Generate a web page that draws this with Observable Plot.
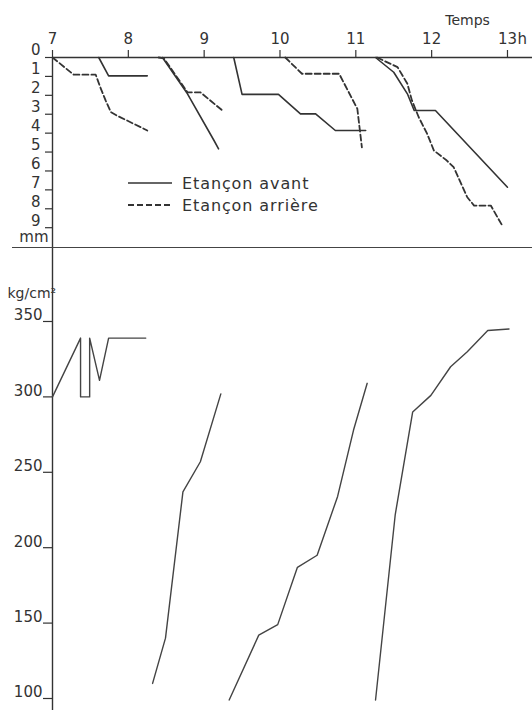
<!DOCTYPE html>
<html>
<head>
<meta charset="utf-8">
<script src="https://cdn.jsdelivr.net/npm/d3@7"></script>
<script src="https://cdn.jsdelivr.net/npm/@observablehq/plot@0.6"></script>
<style>
  body { margin: 0; background: #fff; }
  #fig { position: relative; width: 532px; height: 710px; font-family: "DejaVu Sans", sans-serif; color: #333; overflow: hidden; }
  #fig svg { display: block; }
  .sep { position: absolute; left: 12px; top: 247px; width: 520px; border-top: 1.5px solid #444; }
  .key { position: absolute; left: 127px; height: 20px; display: flex; align-items: center; font-size: 16px; letter-spacing: 0.9px; color: #333; }
  .key svg { margin-right: 9px; }
</style>
</head>
<body>
<div id="fig"></div>
<script>
// Hour ticks along the shared time axis, and the two value axes
const hourTicks = [7, 8, 9, 10, 11, 12, 13];
const depthTicks = [0, 1, 2, 3, 4, 5, 6, 7, 8, 9];
const pressureTicks = [100, 150, 200, 250, 300, 350];

// Convergence (mm) of the front prop, [hour, mm]
const avant1 = [[7.61, 0], [7.74, 0.97], [8.25, 0.97]];
const avant2 = [[8.45, 0], [8.78, 1.92], [9.13, 4.39], [9.19, 4.83]];
const avant3 = [[9.39, 0], [9.50, 1.95], [9.98, 1.95], [10.27, 2.98], [10.47, 2.98], [10.73, 3.86], [11.13, 3.86]];
const avant4 = [[11.26, 0], [11.50, 0.78], [11.68, 1.92], [11.77, 2.80], [12.05, 2.80], [13.00, 6.86]];

// Convergence (mm) of the rear prop, [hour, mm]
const arriere1 = [[7.00, 0], [7.28, 0.91], [7.57, 0.91], [7.63, 1.57], [7.70, 2.27], [7.77, 2.89], [7.85, 3.07], [8.25, 3.86]];
const arriere2 = [[8.40, 0], [8.47, 0.05], [8.78, 1.84], [8.95, 1.84], [9.24, 2.80]];
const arriere3 = [[10.07, 0], [10.29, 0.86], [10.78, 0.86], [11.02, 2.71], [11.08, 4.75]];
const arriere4 = [[11.28, 0], [11.55, 0.51], [11.68, 1.39], [11.74, 2.27], [11.83, 3.16], [11.94, 4.03], [12.03, 4.92], [12.20, 5.45], [12.29, 5.80], [12.47, 7.39], [12.56, 7.83], [12.78, 7.83], [12.93, 8.88]];

// Prop load (kg/cm²), [hour, kg/cm²]
const charge1 = [[7.00, 300], [7.37, 339], [7.37, 300], [7.49, 300], [7.49, 339], [7.62, 311], [7.74, 339], [8.23, 339]];
const charge2 = [[8.32, 110], [8.49, 140], [8.72, 237], [8.95, 257], [9.22, 302]];
const charge3 = [[9.33, 99], [9.72, 142], [9.97, 149], [10.23, 187], [10.49, 195], [10.76, 234], [10.97, 278], [11.15, 309]];
const charge4 = [[11.26, 99], [11.52, 222], [11.75, 290], [11.99, 301], [12.25, 320], [12.47, 330], [12.74, 344], [13.02, 345]];

const toRows = (runs) => runs.flatMap((pts, run) => pts.map(([t, v]) => ({t, v, run})));

const ink = "#333";
const font = "DejaVu Sans";
const xDomain = [7, 13.33];

// Upper panel: convergence against time, depth increasing downward
const upper = Plot.plot({
  width: 532,
  height: 248,
  marginLeft: 52,
  marginRight: 0,
  marginTop: 57,
  marginBottom: 0,
  style: {fontFamily: font, color: ink, background: "transparent", overflow: "visible"},
  x: {domain: xDomain},
  y: {domain: [0, 10.1], reverse: true},
  marks: [
    Plot.ruleY([0], {stroke: ink, strokeWidth: 1.4}),
    Plot.ruleX([7], {stroke: ink, strokeWidth: 1.4}),
    Plot.axisX({anchor: "top", ticks: hourTicks, tickSize: 8, fill: "none", strokeWidth: 1.2, label: null}),
    Plot.axisX({anchor: "top", ticks: hourTicks, tickSize: 8, tickPadding: 6, stroke: "none", fontSize: 15,
      tickFormat: (d) => String(d), label: null}),
    Plot.text(["h"], {x: [13], frameAnchor: "top", dx: 10, dy: -14, textAnchor: "start", lineAnchor: "bottom", fontSize: 15, fill: ink}),
    Plot.text(["Temps"], {frameAnchor: "top-right", dx: -65, dy: -37, textAnchor: "middle", lineAnchor: "middle", fontSize: 14, fill: ink}),
    Plot.axisY({anchor: "left", ticks: depthTicks, tickSize: 7, fill: "none", strokeWidth: 1.2, label: null}),
    Plot.axisY({anchor: "left", ticks: depthTicks, tickSize: 7, tickPadding: 5, stroke: "none", dy: -7, fontSize: 15,
      tickFormat: (d) => String(d), label: null}),
    Plot.text(["mm"], {frameAnchor: "bottom-left", dx: -4, dy: -11, textAnchor: "end", lineAnchor: "middle", fontSize: 15, fill: ink}),
    Plot.line(toRows([avant1, avant2, avant3, avant4]), {x: "t", y: "v", z: "run", stroke: ink, strokeWidth: 1.6, curve: "linear"}),
    Plot.line(toRows([arriere1, arriere2, arriere3, arriere4]), {x: "t", y: "v", z: "run", stroke: ink, strokeWidth: 1.8, strokeDasharray: "6,3", curve: "linear"})
  ]
});

// Lower panel: load on the prop against the same time scale
const lower = Plot.plot({
  width: 532,
  height: 462,
  marginLeft: 52,
  marginRight: 0,
  marginTop: 0,
  marginBottom: 0,
  style: {fontFamily: font, color: ink, background: "transparent", overflow: "visible"},
  x: {domain: xDomain, axis: null},
  y: {domain: [92.04, 398.4]},
  marks: [
    Plot.ruleX([7], {stroke: ink, strokeWidth: 1.4}),
    Plot.axisY({anchor: "left", ticks: pressureTicks, tickSize: 9, fill: "none", strokeWidth: 1.2, label: null}),
    Plot.axisY({anchor: "left", ticks: pressureTicks, tickSize: 9, tickPadding: 1, stroke: "none", dy: -6, fontSize: 15,
      tickFormat: (d) => String(d), label: null}),
    Plot.text(["kg/cm²"], {frameAnchor: "top-left", dx: -45, dy: 45, textAnchor: "start", lineAnchor: "middle", fontSize: 14, fill: ink}),
    Plot.line(toRows([charge1, charge2, charge3, charge4]), {x: "t", y: "v", z: "run", stroke: "#444", strokeWidth: 1.4, curve: "linear"})
  ]
});

const fig = document.getElementById("fig");
fig.append(upper, lower);

const sep = document.createElement("div");
sep.className = "sep";
fig.append(sep);

// Legend for the two props
const keys = [
  {label: "Etançon avant", dash: null, top: 173},
  {label: "Etançon arrière", dash: "6,3", top: 195}
];
for (const k of keys) {
  const row = document.createElement("div");
  row.className = "key";
  row.style.top = k.top + "px";
  const ns = "http://www.w3.org/2000/svg";
  const sw = document.createElementNS(ns, "svg");
  sw.setAttribute("width", "46");
  sw.setAttribute("height", "10");
  const ln = document.createElementNS(ns, "line");
  ln.setAttribute("x1", "1"); ln.setAttribute("x2", "45");
  ln.setAttribute("y1", "5"); ln.setAttribute("y2", "5");
  ln.setAttribute("stroke", ink);
  ln.setAttribute("stroke-width", k.dash ? "1.8" : "1.6");
  if (k.dash) ln.setAttribute("stroke-dasharray", k.dash);
  sw.append(ln);
  const tx = document.createElement("span");
  tx.textContent = k.label;
  row.append(sw, tx);
  fig.append(row);
}
</script>
</body>
</html>
